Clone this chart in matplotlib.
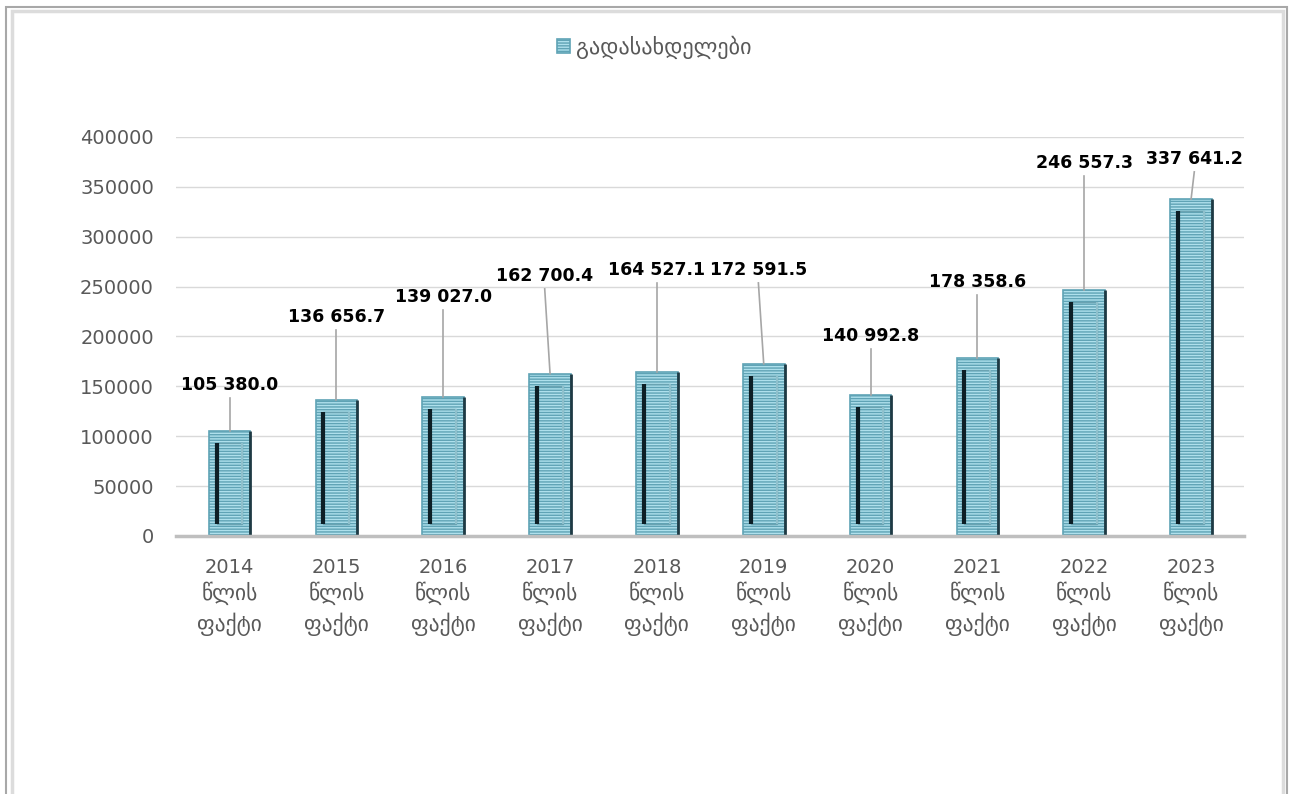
import matplotlib.pyplot as plt
from matplotlib.patches import Rectangle

years = ['2014', '2015', '2016', '2017', '2018', '2019', '2020', '2021', '2022', '2023']
values = [105380.0, 136656.7, 139027.0, 162700.4, 164527.1, 172591.5, 140992.8, 178358.6, 246557.3, 337641.2]
series_name = 'გადასახდელები'
tick_suffix = 'წლის\nფაქტი'

# label placement (x shift in categories, y in data units)
label_dx = [0.0, 0.0, 0.0, -0.05, 0.0, -0.05, 0.0, 0.0, 0.0, 0.03]
label_y = [151000, 219500, 239600, 260700, 266700, 266700, 200500, 254600, 374000, 378000]

plt.rcParams['font.family'] = ['DejaVu Sans']
plt.rcParams['hatch.linewidth'] = 1.0

fig = plt.figure(figsize=(12.95, 7.94), dpi=100)
ax = fig.add_axes([0.136, 0.325, 0.825, 0.5025])

x = list(range(len(years)))
w = 0.39
ax.bar(x, values, width=w, color='#aee0ec', edgecolor='#5fa3b5', hatch='------',
       linewidth=1.2, zorder=3, label=series_name)
# inner bevel panel
inner = [v - 24000 for v in values]
ax.bar(x, inner, bottom=12000, width=w * 0.62, color='none', edgecolor='#6aa3b2',
       linewidth=1.0, zorder=4)
for xi, v in zip(x, values):
    ax.vlines(xi - w * 0.31, 12000, v - 12000, color='#0d1f26', linewidth=3.0, zorder=5)
    ax.vlines(xi + w * 0.31, 12000, v - 12000, color='#8fc0cc', linewidth=1.5, zorder=5)
    ax.vlines(xi + w * 0.5, 0, v, color='#1e3a44', linewidth=2.0, zorder=5)

for xi, v, dx, ly in zip(x, values, label_dx, label_y):
    s = f'{v:,.1f}'.replace(',', ' ')
    ax.plot([xi, xi + dx], [v, ly - 13000], color='#a6a6a6', lw=1.2, zorder=6)
    ax.text(xi + dx, ly, s, ha='center', va='center', fontsize=12.5,
            fontweight='bold', color='black', zorder=6)

ax.set_xlim(-0.5, len(years) - 0.5)
ax.set_ylim(0, 400000)
ax.set_yticks(range(0, 400001, 50000))
ax.set_xticks(x)
ax.set_xticklabels(years)
ax.tick_params(axis='both', length=0, labelsize=14, labelcolor='#595959')
ax.tick_params(axis='x', pad=16)
ax.tick_params(axis='y', pad=16)
for xi in x:
    ax.text(xi, -0.115, tick_suffix, transform=ax.get_xaxis_transform(), ha='center',
            va='top', fontsize=15.5, color='#595959', linespacing=1.4)
ax.grid(axis='y', color='#d9d9d9', linewidth=1.0, zorder=0)
for sp in ['top', 'right', 'left']:
    ax.spines[sp].set_visible(False)
ax.spines['bottom'].set_color('#bfbfbf')
ax.spines['bottom'].set_linewidth(2.5)
ax.spines['bottom'].set_zorder(6)

leg = fig.legend(loc='center', bbox_to_anchor=(0.505, 0.94), frameon=False, fontsize=16,
                 handlelength=0.6, handleheight=0.6, handletextpad=0.25)
for t in leg.get_texts():
    t.set_color('#595959')

# outer frame
fig.patches.append(Rectangle((0.005, -0.05), 0.989, 1.041, transform=fig.transFigure,
                             fill=False, edgecolor='#a8a8a8', linewidth=1.5))
fig.patches.append(Rectangle((0.009, -0.05), 0.982, 1.036, transform=fig.transFigure,
                             fill=False, edgecolor='#dcdcdc', linewidth=2.5))

fig.savefig('out.png', dpi=100)
